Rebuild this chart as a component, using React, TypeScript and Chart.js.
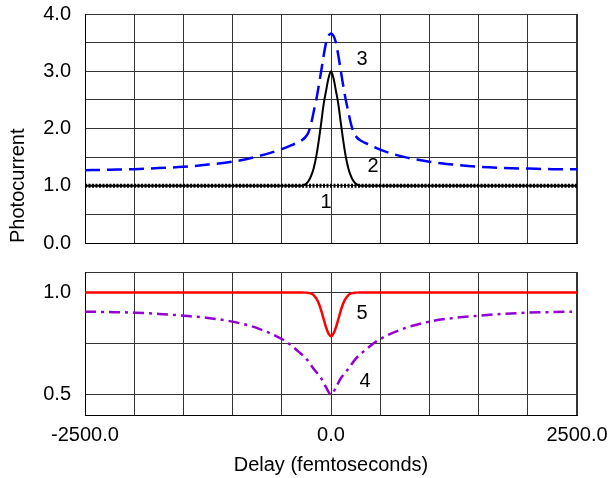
import React, { useEffect, useRef } from 'react';
import { Chart, registerables } from 'chart.js';
Chart.register(...registerables);

// ---- data ----
const curve1X = [-2500, 2500];
const curve1Y = [1.0, 1.0];

const curve2X = [-2500, -300, -250, -225, -200, -175, -150, -125, -100, -75, -50, -25, 0, 25, 50, 75, 100, 125, 150, 175, 200, 225, 250, 300, 2500];
const curve2Y = [1.0, 1.0, 1.04, 1.09, 1.18, 1.31, 1.51, 1.78, 2.09, 2.42, 2.66, 2.88, 3.0, 2.88, 2.66, 2.42, 2.09, 1.78, 1.51, 1.31, 1.18, 1.09, 1.04, 1.0, 1.0];

const curve3X = [-2500, -2250, -2000, -1750, -1500, -1250, -1000, -750, -500, -400, -300, -260, -230, -200, -175, -150, -125, -100, -75, -50, -25, 0, 25, 50, 75, 100, 125, 150, 175, 200, 230, 260, 300, 400, 500, 750, 1000, 1250, 1500, 1750, 2000, 2250, 2500];
const curve3Y = [1.27, 1.28, 1.29, 1.31, 1.33, 1.37, 1.42, 1.51, 1.64, 1.71, 1.79, 1.85, 1.93, 2.1, 2.3, 2.5, 2.74, 3.0, 3.27, 3.5, 3.62, 3.66, 3.62, 3.5, 3.27, 3.0, 2.74, 2.5, 2.3, 2.1, 1.93, 1.85, 1.79, 1.71, 1.63, 1.5, 1.42, 1.37, 1.33, 1.31, 1.3, 1.29, 1.29];

const curve4X = [-2500, -2250, -2000, -1750, -1500, -1250, -1000, -750, -500, -430, -330, -250, -175, -100, -50, 0, 50, 100, 175, 250, 330, 430, 500, 750, 1000, 1250, 1500, 1750, 2000, 2250, 2450];
const curve4Y = [0.906, 0.904, 0.901, 0.895, 0.886, 0.875, 0.857, 0.825, 0.772, 0.75, 0.71, 0.675, 0.625, 0.58, 0.535, 0.5, 0.535, 0.58, 0.625, 0.675, 0.71, 0.75, 0.772, 0.825, 0.857, 0.875, 0.886, 0.895, 0.901, 0.904, 0.906];

const curve5X = [-2500, -300, -250, -200, -175, -150, -125, -100, -75, -50, -25, 0, 25, 50, 75, 100, 125, 150, 175, 200, 250, 300, 2500];
const curve5Y = [1.0, 1.0, 0.999, 0.994, 0.986, 0.971, 0.947, 0.912, 0.87, 0.829, 0.798, 0.786, 0.798, 0.829, 0.87, 0.912, 0.947, 0.971, 0.986, 0.994, 0.999, 1.0, 1.0];

const topLabelText = ['1', '2', '3'];
const topLabelX = [-50, 427, 315];
const topLabelY = [0.7, 1.33, 3.21];
const bottomLabelText = ['4', '5'];
const bottomLabelX = [345, 315];
const bottomLabelY = [0.563, 0.898];

const xLabelled = [-2500, 0, 2500];
const topYLabelled = [0, 1, 2, 3, 4];
const bottomYTicks = [0.4, 0.5, 0.75, 1.0, 1.1];
const bottomYLabelled = [0.5, 1.0];

const FONT = "'Liberation Sans', Arial, sans-serif";
const FS = 20;

const pts = (xs: number[], ys: number[]) => xs.map((x, i) => ({ x, y: ys[i] }));
const has = (arr: number[], v: number) => arr.some((a) => Math.abs(a - v) < 1e-6);

const labelPlugin = (texts: string[], xs: number[], ys: number[]) => ({
  id: 'curveLabels',
  afterDatasetsDraw(chart: any) {
    const { ctx, scales } = chart;
    ctx.save();
    ctx.font = `${FS}px ${FONT}`;
    ctx.fillStyle = '#000';
    ctx.textAlign = 'center';
    ctx.textBaseline = 'middle';
    texts.forEach((t, i) => {
      ctx.fillText(t, scales.x.getPixelForValue(xs[i]), scales.y.getPixelForValue(ys[i]));
    });
    ctx.restore();
  },
});

const gridCfg = {
  color: '#333',
  lineWidth: (c: any) => (c.tick && c.tick.value === 2500 ? 2 : 1),
  drawTicks: false,
};

const zeroPad = (s: any) => {
  s.paddingTop = 0;
  s.paddingBottom = 0;
  s.paddingLeft = 0;
  s.paddingRight = 0;
};

export default function App() {
  const topRef = useRef<HTMLCanvasElement>(null);
  const botRef = useRef<HTMLCanvasElement>(null);

  useEffect(() => {
    const common = {
      pointRadius: 0,
      fill: false,
      cubicInterpolationMode: 'monotone' as const,
    };
    const top = new Chart(topRef.current!, {
      type: 'line',
      data: {
        datasets: [
          { ...common, data: pts(curve3X, curve3Y), borderColor: '#0000ff', borderWidth: 2.5, borderDash: [15, 7] },
          { ...common, data: pts(curve1X, curve1Y), borderColor: '#000', borderWidth: 4, borderDash: [2, 1.5] },
          { ...common, data: pts(curve2X, curve2Y), borderColor: '#000', borderWidth: 2 },
        ],
      },
      options: {
        animation: false,
        responsive: false,
        events: [],
        layout: { padding: { left: 0, right: 35, top: 14, bottom: 15 } },
        plugins: { legend: { display: false }, tooltip: { enabled: false } },
        scales: {
          x: {
            type: 'linear',
            min: -2500,
            max: 2500,
            ticks: { display: false, stepSize: 500 },
            grid: gridCfg,
            border: { display: true, color: '#000', width: 1 },
            afterFit: (s: any) => { s.height = 0; zeroPad(s); },
          },
          y: {
            min: 0,
            max: 4,
            ticks: {
              stepSize: 0.5,
              padding: 14,
              color: '#000',
              font: { family: FONT, size: FS },
              callback: (v: any) => (has(topYLabelled, Number(v)) ? Number(v).toFixed(1) : ''),
            },
            grid: gridCfg,
            border: { display: true, color: '#000', width: 1 },
            title: {
              display: true,
              text: 'Photocurrent',
              align: 'start',
              color: '#000',
              font: { family: FONT, size: FS },
              padding: { top: 6, bottom: 0 },
            },
            afterFit: (s: any) => { s.width = 85; zeroPad(s); },
          },
        },
      },
      plugins: [labelPlugin(topLabelText, topLabelX, topLabelY)],
    } as any);

    const bot = new Chart(botRef.current!, {
      type: 'line',
      data: {
        datasets: [
          { ...common, data: pts(curve4X, curve4Y), borderColor: '#9400d3', borderWidth: 2.5, borderDash: [11, 5, 3, 5] },
          { ...common, data: pts(curve5X, curve5Y), borderColor: '#ff0000', borderWidth: 2.5 },
        ],
      },
      options: {
        animation: false,
        responsive: false,
        events: [],
        layout: { padding: { left: 0, right: 35, top: 14, bottom: 0 } },
        plugins: { legend: { display: false }, tooltip: { enabled: false } },
        scales: {
          x: {
            type: 'linear',
            min: -2500,
            max: 2500,
            ticks: {
              stepSize: 500,
              autoSkip: false,
              maxRotation: 0,
              padding: 8,
              color: '#000',
              font: { family: FONT, size: FS },
              callback: (v: any) => (has(xLabelled, Number(v)) ? Number(v).toFixed(1) : ''),
            },
            grid: gridCfg,
            border: { display: true, color: '#000', width: 1 },
            title: {
              display: true,
              text: 'Delay (femtoseconds)',
              color: '#000',
              font: { family: FONT, size: FS },
              padding: { top: 0, bottom: 1 },
            },
            afterFit: (s: any) => { s.height = 63; zeroPad(s); },
          },
          y: {
            min: 0.4,
            max: 1.1,
            afterBuildTicks: (s: any) => { s.ticks = bottomYTicks.map((v) => ({ value: v })); },
            ticks: {
              padding: 14,
              color: '#000',
              font: { family: FONT, size: FS },
              callback: (v: any) => (has(bottomYLabelled, Number(v)) ? Number(v).toFixed(1) : ''),
            },
            grid: gridCfg,
            border: { display: true, color: '#000', width: 1 },
            afterFit: (s: any) => { s.width = 85; zeroPad(s); },
          },
        },
      },
      plugins: [labelPlugin(bottomLabelText, bottomLabelX, bottomLabelY)],
    } as any);

    return () => {
      top.destroy();
      bot.destroy();
    };
  }, []);

  return (
    <div style={{ position: 'absolute', left: 0, top: 0, width: 612, height: 478, background: '#fff' }}>
      <canvas ref={topRef} width={612} height={258} style={{ position: 'absolute', left: 0, top: 0, width: 612, height: 258 }} />
      <canvas ref={botRef} width={612} height={220} style={{ position: 'absolute', left: 0, top: 258, width: 612, height: 220 }} />
    </div>
  );
}
